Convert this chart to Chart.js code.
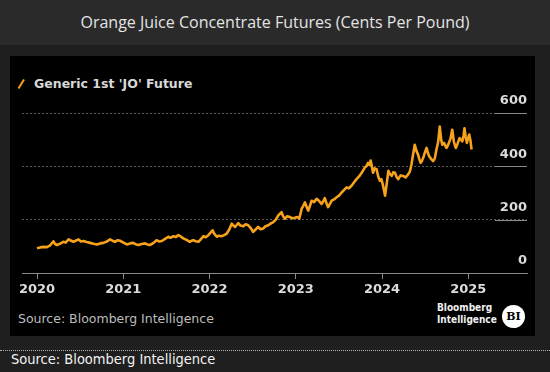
<!DOCTYPE html>
<html lang="en">
<head>
<meta charset="UTF-8">
<title>Orange Juice Concentrate Futures</title>
<style>
  html, body {
    margin: 0;
    padding: 0;
    width: 550px;
    height: 372px;
    background-color: #1f1f1f;
    overflow: hidden;
  }
  .titlebar {
    position: absolute;
    left: 0; top: 0;
    width: 550px; height: 45px;
    background-color: #2a2a2a;
    color: #e4e4e4;
    font-family: "Open Sans", sans-serif;
    font-size: 16px;
    text-align: center;
    line-height: 44px;
  }
  .panel {
    position: absolute;
    left: 10px; top: 56px;
    width: 525px; height: 280px;
    background-color: #000;
  }
  .legend {
    position: absolute;
    left: 34px; top: 76px;
    color: #d8d8d8;
    font-family: "DejaVu Sans", sans-serif;
    font-weight: bold;
    font-size: 12.5px;
  }
  .slash {
    position: absolute;
    left: 17px; top: 78px;
  }
  .src-in {
    position: absolute;
    left: 18px; top: 311px;
    color: #bdbdbd;
    font-family: "DejaVu Sans", sans-serif;
    font-size: 12.5px;
  }
  .logo {
    position: absolute;
    left: 437px; top: 302px;
    color: #f0f0f0;
    font-family: "DejaVu Sans Condensed", "DejaVu Sans", sans-serif;
    font-weight: bold;
    font-size: 10px;
    line-height: 12px;
  }
  .bi {
    position: absolute;
    left: 502px; top: 305px;
    width: 23px; height: 23px;
    border-radius: 50%;
    background-color: #fff;
    color: #000;
    font-family: "DejaVu Serif", serif;
    font-weight: bold;
    font-size: 11px;
    line-height: 23px;
    text-align: center;
  }
  .divider {
    position: absolute;
    left: 0; top: 350px;
    width: 550px;
    border-top: 1px dotted #b0b0b0;
  }
  .src-out {
    position: absolute;
    left: 11px; top: 351px;
    color: #f2f2f2;
    font-family: "DejaVu Sans Condensed", "Liberation Sans", sans-serif;
    font-size: 14.5px;
  }
  #plot {
    position: absolute;
    left: 0; top: 0;
  }
</style>
</head>
<body>
  <div class="titlebar">Orange Juice Concentrate Futures (Cents Per Pound)</div>
  <div class="panel"></div>
  <svg class="slash" width="10" height="12"><line x1="1.5" y1="10.5" x2="7" y2="1.5" stroke="#f7a21b" stroke-width="2"/></svg>
  <div class="legend">Generic 1st 'JO' Future</div>
  <div class="src-in">Source: Bloomberg Intelligence</div>
  <div class="logo">Bloomberg<br>Intelligence</div>
  <div class="bi">BI</div>
  <div class="divider"></div>
  <div class="src-out">Source: Bloomberg Intelligence</div>
  <canvas id="plot" width="550" height="372"></canvas>

  <script src="https://cdn.jsdelivr.net/npm/chart.js"></script>
  <script>
    // values (cents per pound)
    const dates = [
      '2020-01-01', '2020-01-15', '2020-01-29', '2020-02-12', '2020-02-26', '2020-03-11',
      '2020-03-18', '2020-03-26', '2020-04-08', '2020-04-22', '2020-05-01', '2020-05-14',
      '2020-05-25', '2020-06-04', '2020-06-15', '2020-06-25', '2020-07-05', '2020-07-16',
      '2020-07-30', '2020-08-13', '2020-08-27', '2020-09-11', '2020-09-25', '2020-10-09',
      '2020-10-23', '2020-11-06', '2020-11-16', '2020-11-27', '2020-12-08', '2020-12-18',
      '2021-01-02', '2021-01-16', '2021-01-30', '2021-02-12', '2021-02-22', '2021-03-06',
      '2021-03-20', '2021-04-03', '2021-04-14', '2021-04-24', '2021-05-08', '2021-05-22',
      '2021-06-02', '2021-06-13', '2021-06-27', '2021-07-11', '2021-07-20', '2021-08-01',
      '2021-08-12', '2021-08-22', '2021-09-01', '2021-09-12', '2021-09-26', '2021-10-10',
      '2021-10-17', '2021-10-24', '2021-11-04', '2021-11-15', '2021-11-25', '2021-12-06',
      '2021-12-16', '2021-12-27', '2022-01-14', '2022-01-22', '2022-02-01', '2022-02-10',
      '2022-02-21', '2022-03-04', '2022-03-15', '2022-03-25', '2022-04-05', '2022-04-12',
      '2022-04-19', '2022-04-26', '2022-05-03', '2022-05-12', '2022-05-24', '2022-06-03',
      '2022-06-14', '2022-06-25', '2022-07-05', '2022-07-15', '2022-07-26', '2022-08-05',
      '2022-08-16', '2022-08-26', '2022-09-07', '2022-09-18', '2022-09-28', '2022-10-09',
      '2022-10-19', '2022-11-02', '2022-11-09', '2022-11-16', '2022-11-26', '2022-12-07',
      '2022-12-17', '2022-12-28', '2023-01-08', '2023-01-16', '2023-01-26', '2023-02-02',
      '2023-02-09', '2023-02-16', '2023-02-23', '2023-03-02', '2023-03-09', '2023-03-20',
      '2023-03-30', '2023-04-10', '2023-04-20', '2023-04-27', '2023-05-04', '2023-05-11',
      '2023-05-18', '2023-05-25', '2023-06-02', '2023-06-12', '2023-06-23', '2023-07-03',
      '2023-07-14', '2023-07-24', '2023-08-04', '2023-08-14', '2023-08-25', '2023-09-05',
      '2023-09-15', '2023-09-26', '2023-10-07', '2023-10-14', '2023-10-20', '2023-10-27',
      '2023-11-03', '2023-11-09', '2023-11-14', '2023-11-19', '2023-11-24', '2023-12-01',
      '2023-12-09', '2023-12-16', '2023-12-23', '2023-12-29', '2024-01-04', '2024-01-09',
      '2024-01-14', '2024-01-21', '2024-01-28', '2024-02-04', '2024-02-11', '2024-02-18',
      '2024-02-25', '2024-03-03', '2024-03-10', '2024-03-20', '2024-03-31', '2024-04-10',
      '2024-04-21', '2024-04-28', '2024-05-05', '2024-05-12', '2024-05-19', '2024-05-26',
      '2024-06-02', '2024-06-08', '2024-06-13', '2024-06-18', '2024-06-24', '2024-07-01',
      '2024-07-08', '2024-07-14', '2024-07-19', '2024-07-27', '2024-08-05', '2024-08-12',
      '2024-08-19', '2024-08-26', '2024-09-02', '2024-09-08', '2024-09-13', '2024-09-20',
      '2024-09-30', '2024-10-05', '2024-10-11', '2024-10-18', '2024-10-25', '2024-11-01',
      '2024-11-09', '2024-11-17', '2024-11-25', '2024-12-01', '2024-12-07', '2024-12-12',
      '2024-12-16', '2024-12-21', '2024-12-26', '2024-12-31', '2025-01-05', '2025-01-10',
      '2025-01-15'
    ];
    const prices = [
      93, 96, 98, 97, 104, 119,
      108, 105, 110, 117, 114, 126,
      121, 117, 122, 126, 118, 120,
      116, 113, 110, 107, 111, 113,
      118, 126, 121, 117, 123, 121,
      114, 107, 111, 113, 108, 105,
      109, 111, 107, 105, 112, 123,
      118, 120, 128, 136, 132, 138,
      135, 142, 137, 130, 124, 117,
      121, 123, 119, 117, 126, 138,
      134, 142, 160, 146, 136, 140,
      138, 142, 148, 162, 185, 178,
      173, 180, 187, 178, 175, 183,
      179, 168, 154, 163, 173, 164,
      167, 175, 179, 186, 191, 200,
      216, 228, 212, 204, 213, 210,
      205, 207, 210, 204, 241, 252,
      265, 248, 234, 252, 271, 266,
      278, 270, 259, 268, 281, 262,
      247, 258, 271, 276, 284, 290,
      302, 311, 321, 318, 327, 340,
      352, 362, 376, 386, 395, 401,
      413, 405, 422, 400, 376, 392,
      389, 362, 346, 352, 333, 312,
      290, 335, 383, 370, 364, 378,
      376, 360, 352, 366, 364, 358,
      370, 380, 407, 445, 481, 458,
      444, 425, 413, 420, 432, 452,
      469, 450, 438, 428, 420, 430,
      463, 490, 549, 500, 481, 488,
      469, 476, 488, 505, 537, 492,
      469, 486, 506, 500, 494, 515,
      543, 510, 488, 505, 519, 498,
      463
    ];
    const yearTicks = [2020, 2021, 2022, 2023, 2024, 2025];
    const priceTicks = [0, 200, 400, 600];

    function toYear(d) {
      const [y, m, day] = d.split('-').map(Number);
      const start = Date.UTC(y, 0, 1);
      const end = Date.UTC(y + 1, 0, 1);
      return y + (Date.UTC(y, m - 1, day) - start) / (end - start);
    }

    const points = dates.map((d, i) => ({ x: toYear(d), y: prices[i] }));

    const labelFont = { family: 'DejaVu Sans', weight: 'bold', size: 13 };

    // short solid bits of the grid under the right-hand labels
    const labelRule = {
      id: 'labelRule',
      afterDraw(chart) {
        const { ctx, chartArea, scales } = chart;
        ctx.save();
        ctx.strokeStyle = '#8a8a8a';
        ctx.lineWidth = 1;
        priceTicks.slice(1).forEach((v) => {
          const y = Math.round(scales.y.getPixelForValue(v)) + 0.5;
          ctx.beginPath();
          ctx.moveTo(chartArea.right - 32, y);
          ctx.lineTo(chartArea.right, y);
          ctx.stroke();
        });
        ctx.restore();
      }
    };

    new Chart(document.getElementById('plot'), {
      type: 'line',
      data: {
        datasets: [{
          label: "Generic 1st 'JO' Future",
          data: points,
          borderColor: '#f7a21b',
          borderWidth: 2.6,
          borderJoinStyle: 'round',
          pointRadius: 0,
          tension: 0,
          fill: false,
        }]
      },
      options: {
        responsive: false,
        animation: false,
        devicePixelRatio: 1,
        layout: {
          padding: { left: 22, right: 23, top: 113, bottom: 69 }
        },
        plugins: {
          legend: { display: false },
          tooltip: { enabled: false },
        },
        scales: {
          x: {
            type: 'linear',
            min: 2019.826,
            max: 2025.681,
            afterBuildTicks: (s) => { s.ticks = yearTicks.map((v) => ({ value: v })); },
            afterFit: (s) => { s.height = 30; },
            ticks: {
              color: '#dcdcdc',
              font: labelFont,
              padding: 3,
              maxRotation: 0,
              autoSkip: false,
              callback: (v) => String(v),
            },
            grid: {
              drawOnChartArea: false,
              tickLength: 6,
              color: '#8a8a8a',
            },
            border: { color: '#8a8a8a', width: 1 },
          },
          y: {
            position: 'right',
            min: 0,
            max: 600,
            afterBuildTicks: (s) => { s.ticks = priceTicks.map((v) => ({ value: v })); },
            afterFit: (s) => { s.width = 0; },
            ticks: {
              mirror: true,
              padding: 0,
              labelOffset: -12,
              color: '#dcdcdc',
              font: labelFont,
            },
            grid: {
              color: '#5a5a5a',
              drawTicks: false,
            },
            border: { display: false, dash: [2, 2] },
          },
        }
      },
      plugins: [labelRule]
    });
  </script>
</body>
</html>
